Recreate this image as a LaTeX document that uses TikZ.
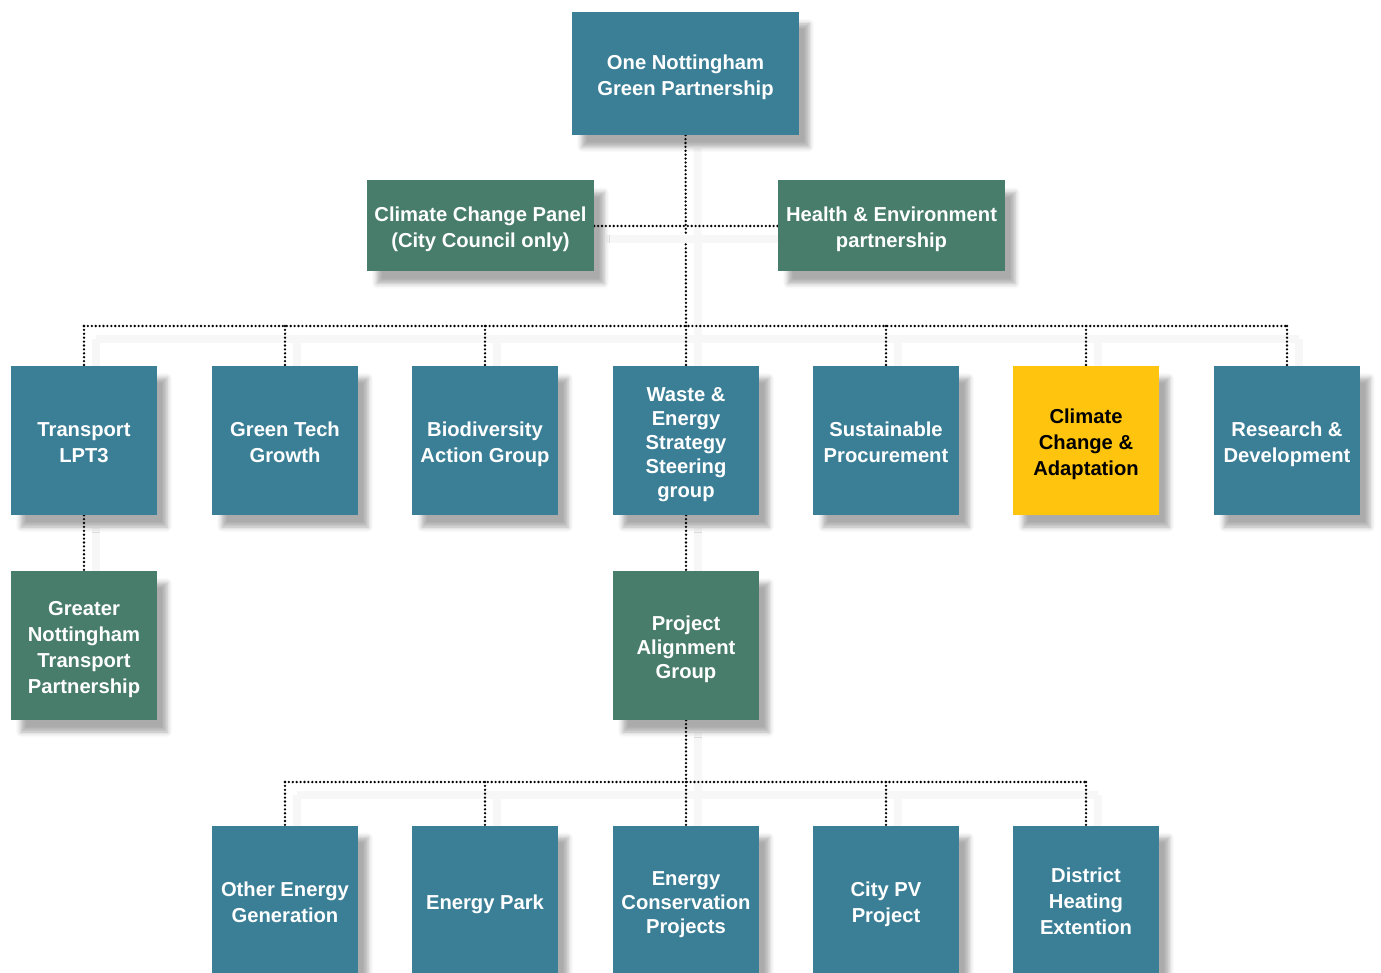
\documentclass[tikz,border=0pt]{standalone}
\usepackage{fontspec}
\setmainfont{Liberation Sans}
\usetikzlibrary{shadows.blur,backgrounds}
\definecolor{teal}{RGB}{59,127,151}
\definecolor{grn}{RGB}{71,125,106}
\definecolor{yel}{RGB}{254,196,14}
\newcommand{\bx}[1]{\begin{tabular}{@{}c@{}}\rule{0pt}{25pt}#1\end{tabular}}
\newcommand{\bxhi}[1]{\begin{tabular}{@{}c@{}}\rule{0pt}{23pt}#1\end{tabular}}
\tikzset{
  orgbox/.style={rectangle, fill=teal, minimum width=146pt, minimum height=149pt, inner sep=0pt,
    text=white, font=\bfseries\fontsize{20.2}{26}\selectfont,
    blur shadow={shadow xshift=10pt, shadow yshift=-12pt, shadow blur radius=5pt, shadow opacity=33}},
  tight/.style={font=\bfseries\fontsize{20.2}{24}\selectfont},
  greenbox/.style={orgbox, fill=grn},
  yellowbox/.style={orgbox, fill=yel, text=black},
  widebox/.style={minimum width=227pt},
  conn/.style={draw=black, line width=2.6pt, line cap=round, dash pattern=on 0pt off 3.9pt,
    preaction={draw=black!3, line width=8pt, solid, line cap=butt, transform canvas={shift={(12pt,-13pt)}}}},
}
\begin{document}
\begin{tikzpicture}[x=1pt,y=-1pt]
\useasboundingbox (0,0) rectangle (1381,973);
\clip (0,0) rectangle (1381,973);
% coordinates of the buses
\coordinate (b1) at (686,326);
\coordinate (b2) at (686,782);
% nodes
\node[orgbox, widebox, minimum height=123pt] (top) at (685.5,73.5) {\bx{One Nottingham\\Green Partnership}};
\node[greenbox, widebox, minimum height=91pt] (ccp) at (480.5,226) {\bx{Climate Change Panel\\(City Council only)}};
\node[greenbox, widebox, minimum height=91pt] (hep) at (891.5,226) {\bx{Health \& Environment\\partnership}};

\node[orgbox] (tr) at (84,440.5) {\bx{Transport\\LPT3}};
\node[orgbox] (gt) at (285,440.5) {\bx{Green Tech\\Growth}};
\node[orgbox] (bag) at (485,440.5) {\bx{Biodiversity\\Action Group}};
\node[orgbox, tight] (wes) at (686,440.5) {\bx{Waste \&\\Energy\\Strategy\\Steering\\group}};
\node[orgbox] (sp) at (886,440.5) {\bx{Sustainable\\Procurement}};
\node[yellowbox] (cca) at (1086,440.5) {\bx{Climate\\Change \&\\Adaptation}};
\node[orgbox] (rd) at (1287,440.5) {\bx{Research \&\\Development}};

\node[greenbox] (gntp) at (84,645.5) {\bx{Greater\\Nottingham\\Transport\\Partnership}};
\node[greenbox, tight] (pag) at (686,645.5) {\bx{Project\\Alignment\\Group}};

\node[orgbox, minimum height=151pt] (oeg) at (285,901) {\bx{Other Energy\\Generation}};
\node[orgbox, minimum height=151pt] (ep) at (485,901) {\bx{Energy Park}};
\node[orgbox, minimum height=151pt, tight] (ecp) at (686,901) {\bx{Energy\\Conservation\\Projects}};
\node[orgbox, minimum height=151pt] (cpv) at (886,901) {\bx{City PV\\Project}};
\node[orgbox, minimum height=151pt] (dhe) at (1086,901) {\bxhi{District\\Heating\\Extention}};

% connectors
\begin{pgfonlayer}{background}
\draw[conn] (top.south) -- (b1);
\draw[conn] (ccp.east) -- (hep.west);
\draw[conn] (tr.north |- b1) -- (rd.north |- b1);
\foreach \n in {tr,gt,bag,wes,sp,cca,rd} { \draw[conn] (\n.north |- b1) -- (\n.north); }
\draw[conn] (tr.south) -- (gntp.north);
\draw[conn] (wes.south) -- (pag.north);
\draw[conn] (pag.south) -- (b2);
\draw[conn] (oeg.north |- b2) -- (dhe.north |- b2);
\foreach \n in {oeg,ep,ecp,cpv,dhe} { \draw[conn] (\n.north |- b2) -- (\n.north); }
\end{pgfonlayer}
\end{tikzpicture}
\end{document}
